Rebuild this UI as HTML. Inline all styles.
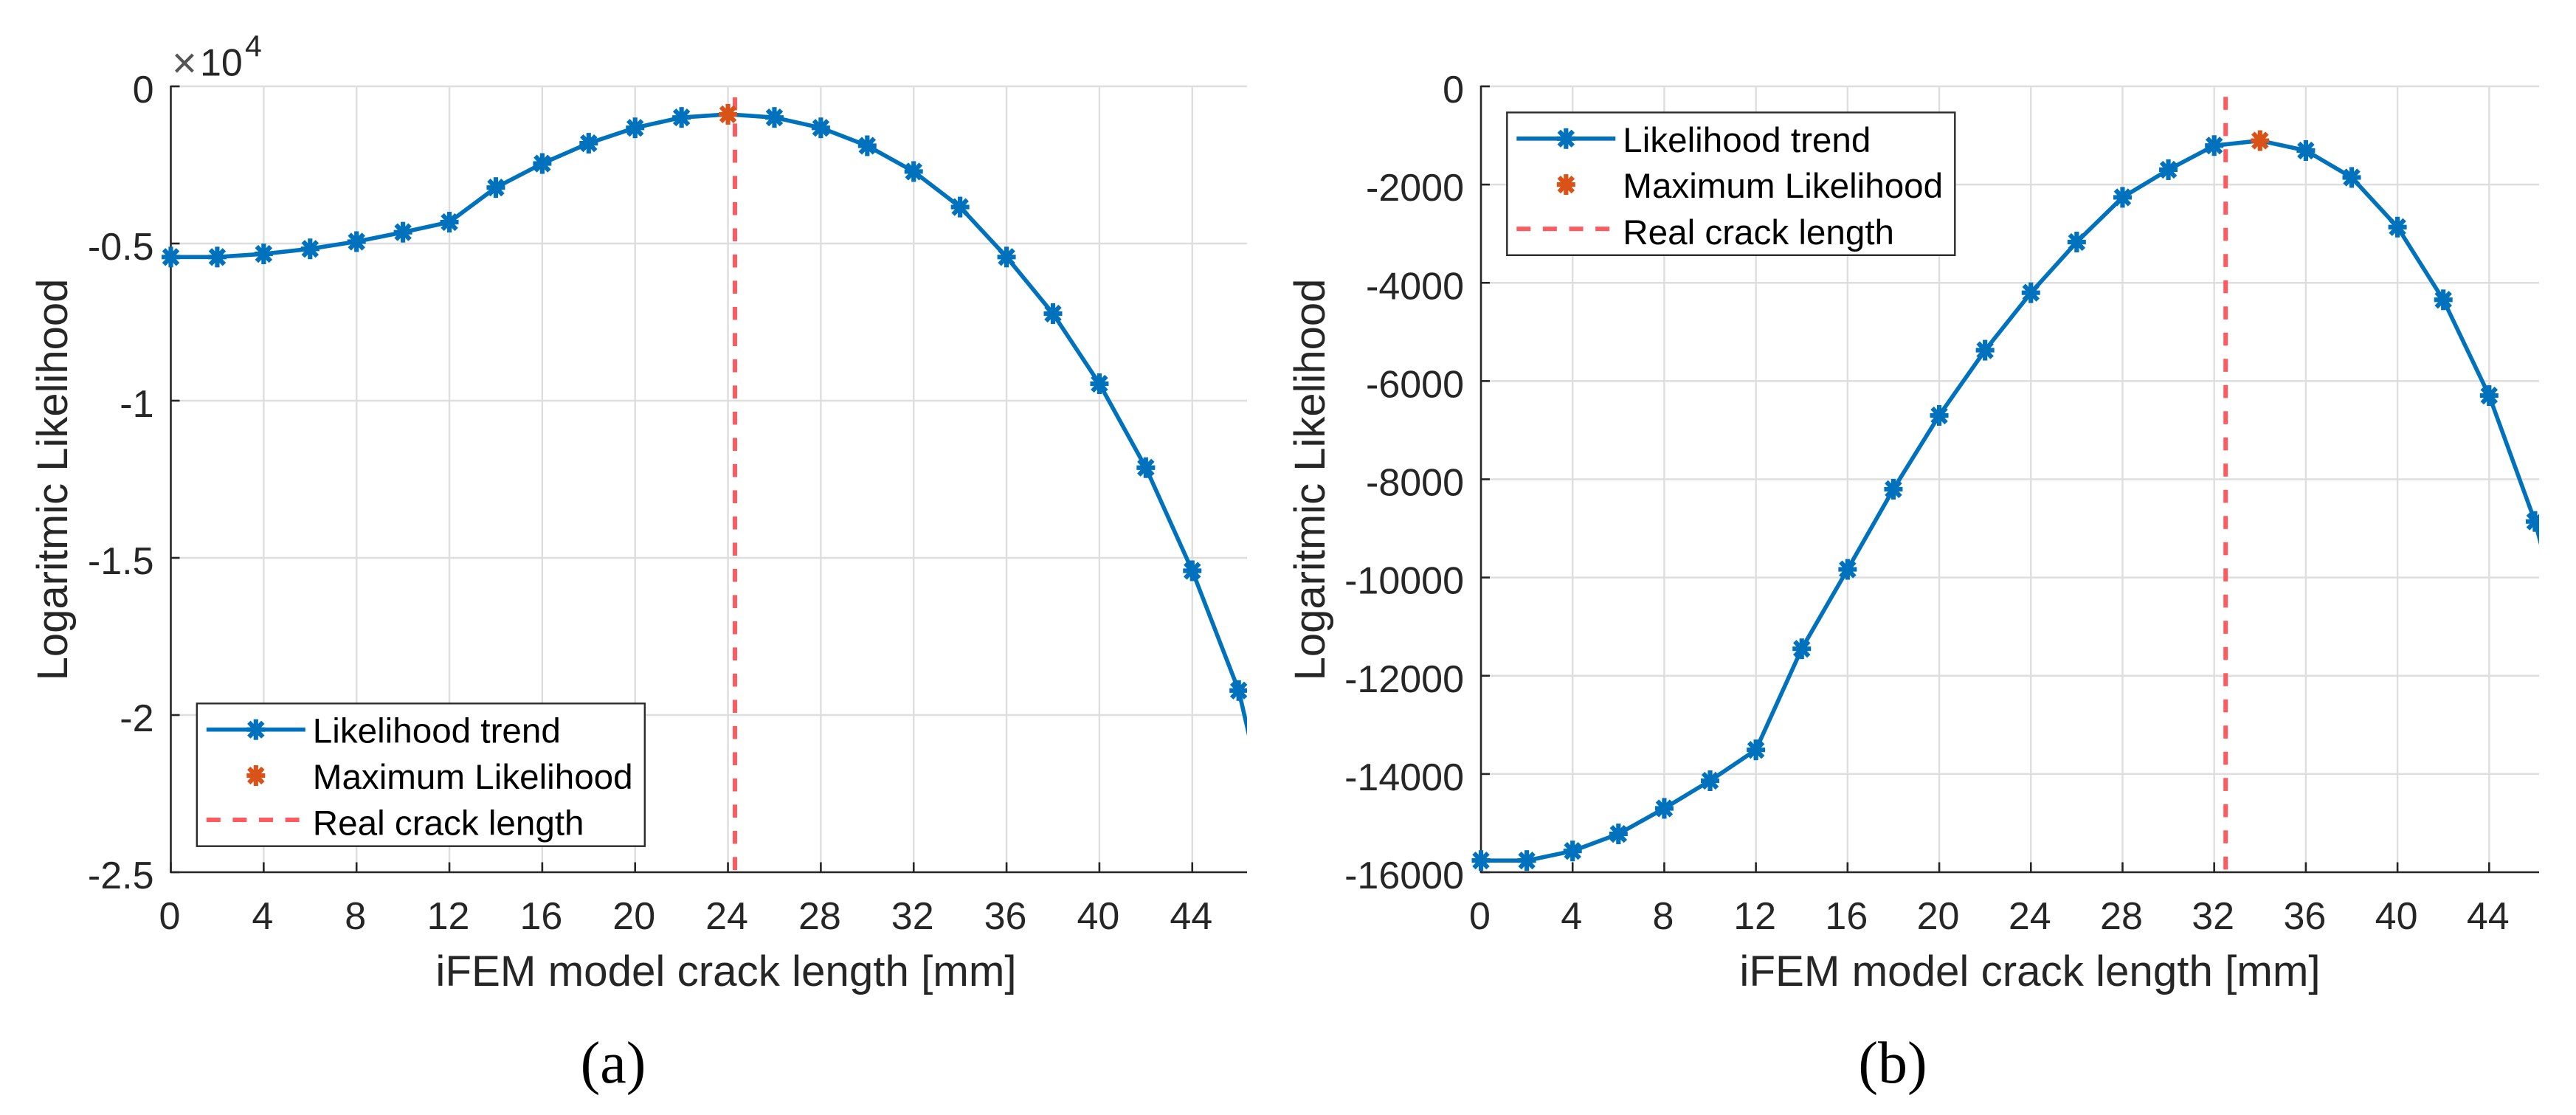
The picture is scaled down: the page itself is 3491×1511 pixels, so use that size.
<!DOCTYPE html>
<html lang="en">
<head>
<meta charset="utf-8">
<title>Logarithmic likelihood vs. iFEM model crack length</title>
<style>
html,body{margin:0;padding:0;background:#fff;}
body{width:3491px;height:1511px;overflow:hidden;}
svg{display:block;font-family:"Liberation Sans",Arial,sans-serif;}
</style>
</head>
<body>
<svg id="figure" xmlns="http://www.w3.org/2000/svg" width="3491" height="1511" viewBox="0 0 3491 1511">
  <rect x="0" y="0" width="3491" height="1511" fill="#fff"/>
  <text x="831" y="1467" text-anchor="middle" font-family="'Liberation Serif',serif" font-size="80" fill="#000">(a)</text>
  <text x="2565" y="1467" text-anchor="middle" font-family="'Liberation Serif',serif" font-size="80" fill="#000">(b)</text>
</svg>
<script>
const crackLengths = [0,2,4,6,8,10,12,14,16,18,20,22,24,26,28,30,32,34,36,38,40,42,44,46,48];
const likelihoodA = [-0.543,-0.543,-0.533,-0.517,-0.494,-0.464,-0.432,-0.322,-0.2455,-0.181,-0.132,-0.099,-0.089,-0.099,-0.132,-0.189,-0.271,-0.384,-0.543,-0.723,-0.946,-1.213,-1.541,-1.922,-2.56];
const likelihoodB = [-15762,-15762,-15567,-15220,-14700,-14137,-13509,-11451,-9834,-8202,-6700,-5372,-4202,-3170,-2260,-1697,-1206,-1105,-1307,-1855,-2866,-4346,-6296,-8859,-12360];
const xTicks = [0,4,8,12,16,20,24,28,32,36,40,44];
const yTicksA = [0,-0.5,-1,-1.5,-2,-2.5];
const yTicksB = [0,-2000,-4000,-6000,-8000,-10000,-12000,-14000,-16000];
const realCrackA = 24.3;
const realCrackB = 32.5;
const seriesLabels = ["Likelihood trend","Maximum Likelihood","Real crack length"];
const xAxisTitle = "iFEM model crack length [mm]";
const yAxisTitle = "Logaritmic Likelihood";

const BLUE = "#0072bd", ORANGE = "#d95319", RED = "#ff5a5f", INK = "#262626", GRID = "#dedede";
const svg = document.getElementById("figure");
const NS = "http://www.w3.org/2000/svg";

function make(tag, attrs, parent, text){
  const n = document.createElementNS(NS, tag);
  for (const k in attrs) n.setAttribute(k, attrs[k]);
  if (text !== undefined) n.textContent = text;
  parent.appendChild(n);
  return n;
}

function asterisk(parent, cx, cy, color){
  const g = make("g", {stroke:color, "stroke-width":6.2, fill:color, "stroke-linecap":"butt"}, parent);
  
  
  make("line", {x1:cx, y1:cy-14, x2:cx, y2:cy+14}, g);
  make("line", {x1:cx-12.5, y1:cy, x2:cx+12.5, y2:cy}, g);
  make("line", {x1:cx-9.5, y1:cy-10, x2:cx+9.5, y2:cy+10}, g);
  make("line", {x1:cx-9.5, y1:cy+10, x2:cx+9.5, y2:cy-10}, g);
  make("circle", {cx:cx, cy:cy, r:7, stroke:"none"}, g);
}

function drawPanel(p){
  const root = make("g", {}, svg);
  
  

  const xScale = v => p.left + (v - p.xMin) / (p.xMax - p.xMin) * (p.right - p.left);
  const yScale = v => p.top + (p.yMax - v) / (p.yMax - p.yMin) * (p.bottom - p.top);

  const clip = make("clipPath", {id:"plot-clip-" + p.id}, root);
  make("rect", {x:p.left, y:p.top, width:p.right-p.left, height:p.bottom-p.top}, clip);
  const clipM = make("clipPath", {id:"marker-clip-" + p.id}, root);
  make("rect", {x:p.left-40, y:p.top-40, width:p.right-p.left+40, height:p.bottom-p.top+80}, clipM);

  const grid = make("g", {stroke:GRID, "stroke-width":2.4}, root);
  
  
  xTicks.slice(1).forEach(t => {
    const gl = make("line", {x1:xScale(t), x2:xScale(t), y1:p.top, y2:p.bottom}, grid);
    
    
  });
  p.yTicks.slice(0,-1).forEach(t => {
    const gl = make("line", {x1:p.left, x2:p.right, y1:yScale(t), y2:yScale(t)}, grid);
    
    
  });

  const axes = make("g", {stroke:INK, "stroke-width":2.6}, root);
  
  
  const yAxis = make("line", {x1:p.left, x2:p.left, y1:p.top-1, y2:p.bottom+1}, axes);
  
  
  const xAxis = make("line", {x1:p.left-1, x2:p.right, y1:p.bottom, y2:p.bottom}, axes);
  
  
  xTicks.forEach(t => {
    const tk = make("line", {x1:xScale(t), x2:xScale(t), y1:p.bottom, y2:p.bottom-13.5}, axes);
    
    
    const lb = make("text", {x:xScale(t)-1.5, y:p.bottom+77, "text-anchor":"middle", "font-size":52, fill:INK, stroke:"none"}, root, String(t));
    
    
  });
  p.yTicks.forEach(t => {
    const tk = make("line", {x1:p.left, x2:p.left+12, y1:yScale(t), y2:yScale(t)}, axes);
    
    
    const lb = make("text", {x:p.left-23, y:yScale(t)+22, "text-anchor":"end", "font-size":52, fill:INK, stroke:"none"}, root, String(t));
    
    
  });

  const xTitle = make("text", {x:p.xTitleX, y:1336, "text-anchor":"middle", "font-size":58.3, fill:INK}, root, xAxisTitle);
  
  
  const yTitle = make("text", {transform:"translate(" + p.yTitleX + ",650) rotate(-90)", "text-anchor":"middle", "font-size":58, fill:INK}, root, yAxisTitle);
  
  

  const real = make("line", {x1:xScale(p.realCrack), x2:xScale(p.realCrack), y1:yScale(p.realTop), y2:p.bottom, stroke:RED, "stroke-width":6, "stroke-dasharray":"17.6 17.9"}, root);
  
  

  const pts = p.values.map((v,i) => xScale(crackLengths[i]).toFixed(1) + "," + yScale(v).toFixed(1)).join(" ");
  const trend = make("polyline", {points:pts, fill:"none", stroke:BLUE, "stroke-width":5.6, "stroke-linejoin":"round", "clip-path":"url(#plot-clip-" + p.id + ")"}, root);
  
  

  const marks = make("g", {"clip-path":"url(#marker-clip-" + p.id + ")"}, root);
  
  
  let best = 0;
  p.values.forEach((v,i) => { if (v > p.values[best]) best = i; });
  p.values.forEach((v,i) => {
    if (crackLengths[i] <= p.xMax && i !== best) asterisk(marks, xScale(crackLengths[i]), yScale(v), BLUE);
  });
  asterisk(marks, xScale(crackLengths[best]), yScale(p.values[best]), ORANGE);

  const L = make("g", {transform:"translate(" + p.legendX + "," + p.legendY + ")"}, root);
  
  
  const box = make("rect", {x:0, y:0, width:607, height:193.4, fill:"#fff", stroke:"#2b2b2b", "stroke-width":2.4}, L);
  
  
  const s1 = make("line", {x1:13, x2:147, y1:35.4, y2:35.4, stroke:BLUE, "stroke-width":5.6}, L);
  
  
  asterisk(L, 80, 35.4, BLUE);
  asterisk(L, 80, 97.7, ORANGE);
  const s3 = make("line", {x1:13, x2:141, y1:157.7, y2:157.7, stroke:RED, "stroke-width":6, "stroke-dasharray":"19 16.6"}, L);
  
  
  const baselines = [53.4, 115.7, 178.4];
  seriesLabels.forEach((s,i) => {
    const t = make("text", {x:157, y:baselines[i], "font-size":47.6, fill:"#000"}, L, s);
    
    
  });
}

drawPanel({id:"a", left:231.5, right:1690, top:117, bottom:1182, xMin:0, xMax:46.36, yMin:-2.5, yMax:0,
  values:likelihoodA, yTicks:yTicksA, realCrack:realCrackA, realTop:-0.035, xTitleX:984, yTitleX:91, legendX:266.8, legendY:953.3});
drawPanel({id:"b", left:2007, right:3441, top:117, bottom:1182, xMin:0, xMax:46.18, yMin:-16000, yMax:0,
  values:likelihoodB, yTicks:yTicksB, realCrack:realCrackB, realTop:-215, xTitleX:2751, yTitleX:1795, legendX:2042.3, legendY:152.4});

const expoTimes = document.createElementNS(NS, "text");


expoTimes.setAttribute("x", "233");
expoTimes.setAttribute("y", "105");
expoTimes.setAttribute("font-size", "58");
expoTimes.setAttribute("fill", "#555");
expoTimes.textContent = "\u00d7";
svg.appendChild(expoTimes);
const expo = document.createElementNS(NS, "text");


expo.setAttribute("x", "271");
expo.setAttribute("y", "102.5");
expo.setAttribute("font-size", "52");
expo.setAttribute("fill", INK);
expo.textContent = "10";
svg.appendChild(expo);
const expoPow = document.createElementNS(NS, "text");


expoPow.setAttribute("x", "332");
expoPow.setAttribute("y", "76.5");
expoPow.setAttribute("font-size", "41");
expoPow.setAttribute("fill", INK);
expoPow.textContent = "4";
svg.appendChild(expoPow);
</script>
</body>
</html>
